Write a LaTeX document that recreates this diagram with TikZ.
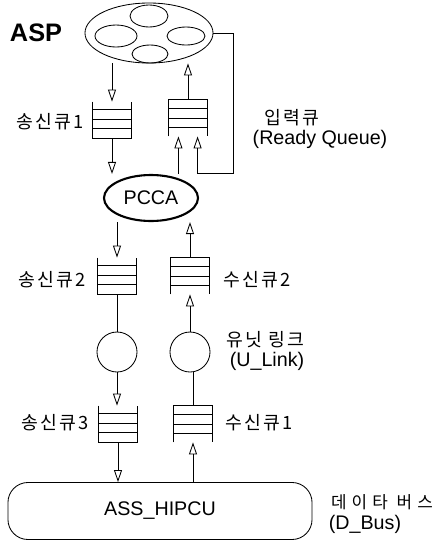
\documentclass[tikz,border=0pt]{standalone}
\usepackage{fontspec}
\setmainfont{Liberation Sans}
\newfontfamily\kr[LetterSpace=12]{Noto Sans CJK KR}
\newfontfamily\krwide[LetterSpace=30]{Noto Sans CJK KR}
\usetikzlibrary{arrows.meta,shapes.geometric}

\begin{document}
\begin{tikzpicture}[x=0.025cm, y=-0.025cm, line width=0.6pt,
  arr/.style={-{Triangle[open,length=3mm,width=2mm]}},
  queue/.style={minimum width=0.95cm, minimum height=0.9cm, inner sep=0pt},
  unit/.style={circle, draw, minimum size=1cm, inner sep=0pt},
  lbl/.style={font=\kr\fontsize{13}{15}\selectfont},
  eng/.style={font=\fontsize{14}{16}\selectfont}]
\useasboundingbox (0,0) rectangle (440,542);

% ASP with its processes
\node[font=\bfseries\fontsize{18}{20}\selectfont] (asplabel) at (36,33) {ASP};
\node[ellipse, draw, minimum width=3.2cm, minimum height=1.5cm, inner sep=0pt] (asp) at (149,33) {};
\draw (149,16) ellipse [x radius=0.475cm, y radius=0.275cm];
\draw (116,36) ellipse [x radius=0.525cm, y radius=0.275cm];
\draw (186,36) ellipse [x radius=0.475cm, y radius=0.225cm];
\draw (150,54) ellipse [x radius=0.45cm, y radius=0.225cm];

% PCCA
\node[ellipse, draw, line width=1.5pt, minimum width=2.35cm, minimum height=1.15cm, inner sep=0pt, eng] (pcca) at (151,198) {PCCA};

% Queues
\node[queue] (sq1) at (112,120) {};
\node[queue] (rq0) at (188,118) {};
\node[queue] (sq2) at (117,276) {};
\node[queue] (rq2) at (190,276) {};
\node[queue] (sq3) at (118,424) {};
\node[queue] (rq1) at (193,424) {};

% send queues (open at the top)
\foreach \q in {sq1,sq2,sq3} {
  \draw (\q.north west) -- (\q.south west) -- (\q.south east) -- (\q.north east);
  \foreach \k in {1,2,3}
    \draw ([yshift=\k*0.24cm]\q.south west) -- ([yshift=\k*0.24cm]\q.south east);
}
% receive queues (open at the bottom)
\foreach \q in {rq0,rq2,rq1} {
  \draw (\q.south west) -- (\q.north west) -- (\q.north east) -- (\q.south east);
  \foreach \k in {1,2,3}
    \draw ([yshift=-\k*0.23cm]\q.north west) -- ([yshift=-\k*0.23cm]\q.north east);
}

% Unit links
\node[unit] (lc) at (117,352) {};
\node[unit] (rc) at (190,352) {};

% Data bus
\node[draw, rounded corners=0.5cm, minimum width=7.6cm, minimum height=1.425cm, eng] (bus) at (160,511) {ASS\_HIPCU};

% Labels
\node[lbl] (t-sq1) at (50,122) {송신큐1};
\node[lbl] (t-rq0) at (292,118) {입력큐};
\node[eng] (t-ready) at (320,139) {(Ready Queue)};
\node[lbl] (t-sq2) at (52,280) {송신큐2};
\node[lbl] (t-rq2) at (257,280) {수신큐2};
\node[lbl] (t-link) at (265,340) {유닛 링크};
\node[eng] (t-ulink) at (267,361) {(U\_Link)};
\node[lbl] (t-sq3) at (55,423) {송신큐3};
\node[lbl] (t-rq1) at (259,423) {수신큐1};
\node[lbl, font=\krwide\fontsize{12}{14}\selectfont] (t-bus) at (382,502) {데이타 버스};
\node[eng] (t-dbus) at (365,524) {(D\_Bus)};

% Connectors
\coordinate (inL) at ([xshift=-0.24cm]rq0.south);
\coordinate (inR) at ([xshift=0.24cm]rq0.south);
\coordinate (loop) at (233,173);
\draw[arr] (sq1.north |- asp.south) -- (sq1.north);
\draw[arr] (rq0.north) -- (rq0.north |- asp.south);
\draw[arr] (asp.east) -| (loop) -| (inR);
\draw[arr] (sq1.south) -- (sq1.south |- pcca.north);
\draw[arr] (inL |- pcca.north) -- (inL);
\draw[arr] (pcca.south -| sq2.north) -- (sq2.north);
\draw[arr] (rq2.north) -- (rq2.north |- pcca.south);
\draw (sq2.south) -- (lc.north);
\draw[arr] (rc.north) -- (rq2.south);
\draw[arr] (lc.south) -- (lc.south |- sq3.north);
\draw (rq1.north) -- (rq1.north |- rc.south);
\draw[arr] (sq3.south) -- (sq3.south |- bus.north);
\draw[arr] (rq1.south |- bus.north) -- (rq1.south);
\end{tikzpicture}
\end{document}
